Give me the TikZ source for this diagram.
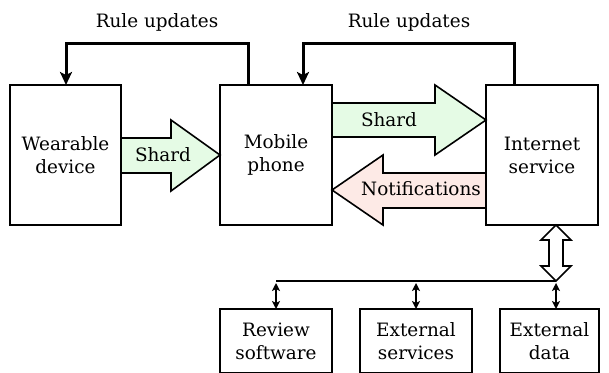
\documentclass[tikz,border=0pt]{standalone}
\usepackage{fontspec}
\setmainfont{DejaVu Serif}
\usetikzlibrary{arrows.meta,calc}
\definecolor{shardfill}{RGB}{229,251,229}
\definecolor{notefill}{RGB}{253,234,230}
\begin{document}
\begin{tikzpicture}[x=1pt,y=-1pt,
  font=\fontsize{18.4}{23}\selectfont,
  box/.style={draw,line width=1.6pt,inner sep=0pt,outer sep=0pt,align=center},
  topbox/.style={box,minimum height=140pt},
  lowbox/.style={box,minimum height=64pt},
  blockarrow/.style={draw,line width=1.6pt,line join=miter},
  rule/.style={line width=3pt,-{Stealth[length=13pt,width=12pt,inset=3pt]}},
  tiny/.style={line width=1.8pt,{Stealth[length=8pt,width=8pt,inset=2pt]}-{Stealth[length=8pt,width=8pt,inset=2pt]}},
  lbl/.style={inner sep=0pt}]
\useasboundingbox (0,0) rectangle (609,372);
\clip (0,0) rectangle (609,372);

% main boxes
\node[topbox,minimum width=111pt] (wear) at (65.5,155) {Wearable\\device};
\node[topbox,minimum width=112pt] (mob) at (276,155) {Mobile\\phone};
\node[topbox,minimum width=112pt] (net) at (542,155) {Internet\\service};

% lower boxes
\node[lowbox,minimum width=112pt] (rev) at (276,341) {Review\\software};
\node[lowbox,minimum width=112pt] (ext) at (416,341) {External\\services};
\node[lowbox,minimum width=99pt] (dat) at (549.5,341) {External\\data};

% block arrow: wearable -> phone
\draw[blockarrow,fill=shardfill]
  ($(wear.east)+(0,-17)$) -- ($(wear.east)+(50,-17)$) -- ($(wear.east)+(50,-35)$)
  -- (mob.west) -- ($(wear.east)+(50,36)$) -- ($(wear.east)+(50,18)$)
  -- ($(wear.east)+(0,18)$) -- cycle;
\node[lbl] (s1) at (163,155) {Shard};

% block arrow: phone -> internet
\coordinate (tipA) at ($(net.north west)+(0,35)$);
\draw[blockarrow,fill=shardfill]
  ($(mob.north east)+(0,18)$) -- ($(mob.north east)+(103,18)$) -- ($(mob.north east)+(103,0)$)
  -- (tipA) -- ($(mob.north east)+(103,70)$) -- ($(mob.north east)+(103,52)$)
  -- ($(mob.north east)+(0,52)$) -- cycle;
\node[lbl] (s2) at (389,120) {Shard};

% block arrow: internet -> phone
\coordinate (tipB) at ($(mob.north east)+(0,105)$);
\draw[blockarrow,fill=notefill]
  ($(net.north west)+(0,88)$) -- ($(net.north west)+(-103,88)$) -- ($(net.north west)+(-103,70)$)
  -- (tipB) -- ($(net.north west)+(-103,140)$) -- ($(net.north west)+(-103,123)$)
  -- ($(net.north west)+(0,123)$) -- cycle;
\node[lbl] (nt) at (421,189) {Notifications};

% rule updates
\draw[rule] ($(mob.north west)+(28,0)$) -- ++(0,-42) -| ($(wear.north west)+(56,0)$);
\draw[rule] ($(net.north west)+(28,0)$) -- ++(0,-42) -| ($(mob.north west)+(83,0)$);
\node[lbl] (r1) at (157,22) {Rule updates};
\node[lbl] (r2) at (409,22) {Rule updates};

% hollow two-way arrow from the internet service to the bus
\coordinate (bus) at (556,281);
\coordinate (bustop) at (556,225);
\draw[blockarrow,fill=white]
  (bustop) -- ++(15,15) -- ++(-8,0) -- ++(0,26) -- ++(8,0) -- (bus)
  -- ++(-15,-15) -- ++(8,0) -- ++(0,-26) -- ++(-8,0) -- cycle;

% bus line and short links
\coordinate (busL) at (rev.north |- bus);
\draw[line width=1.5pt] (busL) -- (bus);
\draw[tiny] ($(busL)+(0,2)$) -- (rev.north);
\draw[tiny] ($(ext.north |- bus)+(0,2)$) -- (ext.north);
\draw[tiny] ($(bus)+(0,2)$) -- (bus |- dat.north);
\end{tikzpicture}
\end{document}
